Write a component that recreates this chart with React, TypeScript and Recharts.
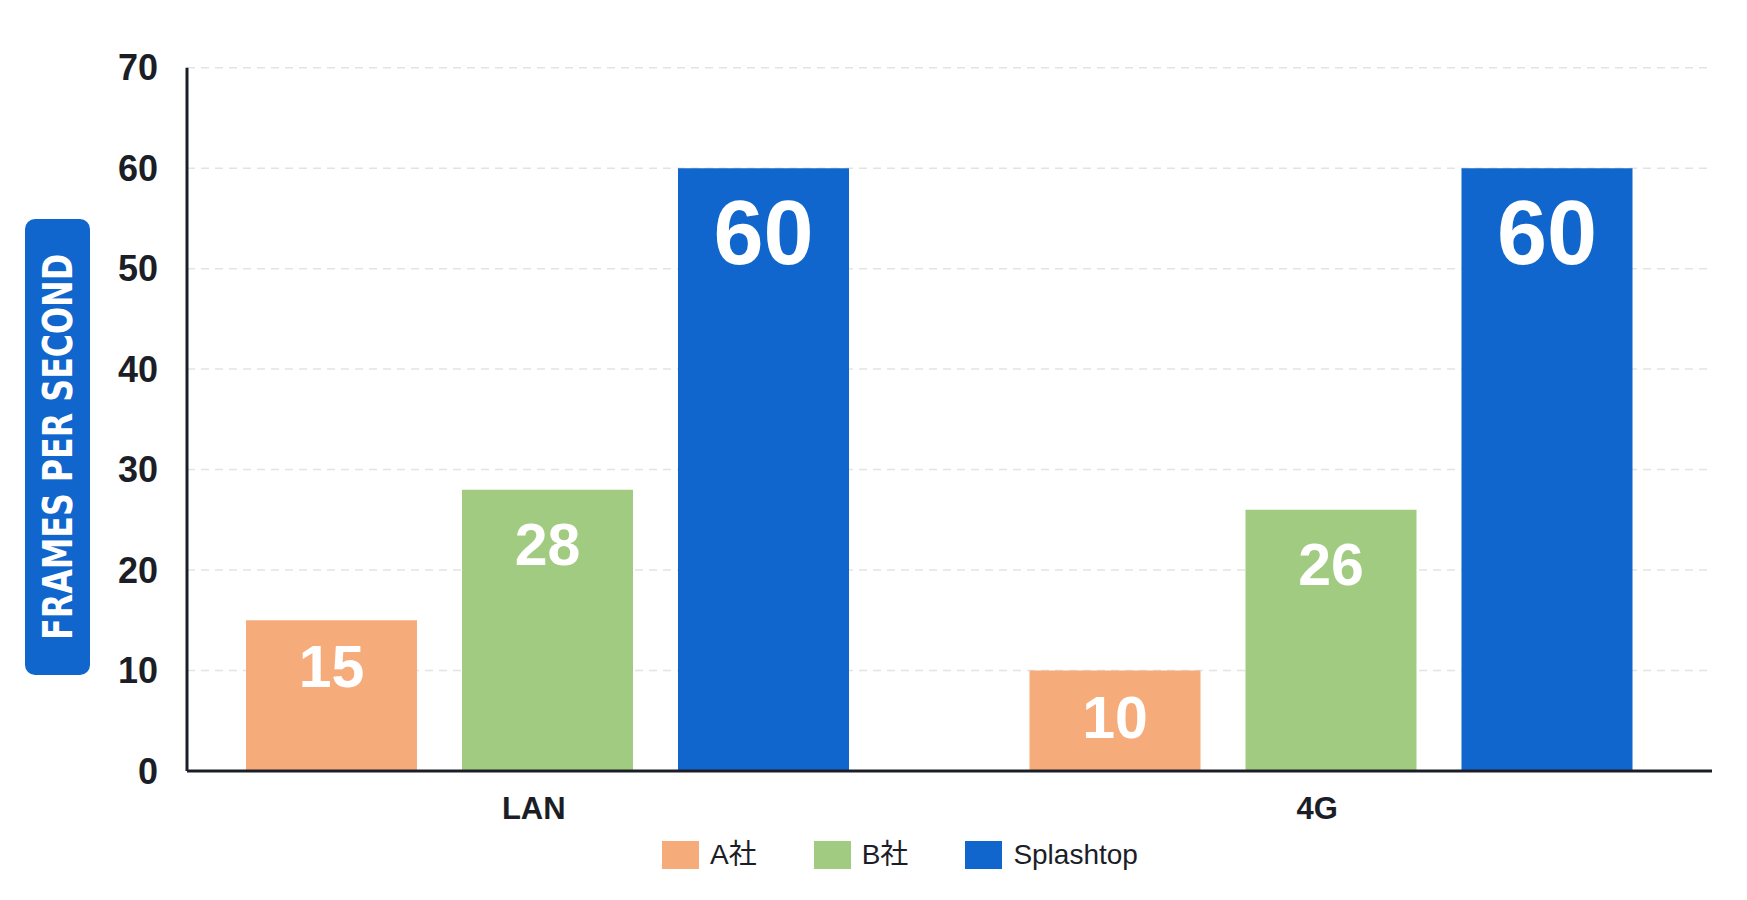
import React from "react";
import {
  Bar,
  BarChart,
  CartesianGrid,
  LabelList,
  Legend,
  XAxis,
  YAxis,
} from "recharts";

const categories = ["LAN", "4G"];
const companyA = [15, 10];
const companyB = [28, 26];
const splashtop = [60, 60];
const yTicks = [0, 10, 20, 30, 40, 50, 60, 70];

const series = [
  { key: "a", name: "A社", color: "#F6AB7B", values: companyA, fontSize: 59, offset: 46 },
  { key: "b", name: "B社", color: "#A0CB80", values: companyB, fontSize: 59, offset: 54 },
  { key: "s", name: "Splashtop", color: "#1066CC", values: splashtop, fontSize: 90, offset: 64 },
];

const data = categories.map((c, i) => ({
  name: c,
  a: companyA[i],
  b: companyB[i],
  s: splashtop[i],
}));

const FONT = "'Liberation Sans', Arial, 'Noto Sans CJK JP', sans-serif";
const DARK = "#1c1e27";

function makeLabel(fontSize: number, offset: number) {
  return (props: any) => {
    const { x, y, width, value } = props;
    const cy = Number(y) + offset;
    return (
      <text
        x={Number(x) + Number(width) / 2}
        y={cy + fontSize * 0.358}
        textAnchor="middle"
        fill="#ffffff"
        fontFamily={FONT}
        fontWeight={700}
        fontSize={fontSize}
      >
        {value}
      </text>
    );
  };
}

function AxisTitle() {
  return (
    <g>
      <rect x={25} y={219} width={65} height={456} rx={10} fill="#1066CC" />
      <text
        transform="translate(57.5,447) rotate(-90)"
        x={0}
        y={14.5}
        textAnchor="middle"
        fill="#ffffff"
        fontFamily="'DejaVu Sans Condensed', 'DejaVu Sans', sans-serif"
        fontWeight={700}
        fontSize={40}
        textLength={386}
        lengthAdjust="spacingAndGlyphs"
      >
        FRAMES PER SECOND
      </text>
    </g>
  );
}

function LegendContent() {
  return (
    <div style={{ display: "flex", alignItems: "center", fontFamily: FONT }}>
      {series.map((s, i) => (
        <div
          key={s.key}
          style={{ display: "flex", alignItems: "center", marginLeft: i === 0 ? 0 : 57 }}
        >
          <div style={{ width: 37, height: 28, background: s.color, marginRight: 11 }} />
          <span style={{ fontSize: 28, color: DARK, lineHeight: "28px" }}>{s.name}</span>
        </div>
      ))}
    </div>
  );
}

export default function App() {
  return (
    <div style={{ position: "absolute", left: 0, top: 0, background: "#fff" }}>
      <BarChart
        width={1747}
        height={900}
        data={data}
        margin={{ top: 67.7, right: 35, left: 0, bottom: 69 }}
        barGap={45}
      >
        <CartesianGrid
          vertical={false}
          stroke="#e3e3e3"
          strokeDasharray="8 6"
          strokeWidth={1.5}
        />
        <XAxis
          dataKey="name"
          height={60}
          padding={{ left: -31, right: -11 }}
          axisLine={{ stroke: DARK, strokeWidth: 3 }}
          tickLine={false}
          tickSize={0}
          tickMargin={26}
          tick={{ fill: DARK, fontSize: 31, fontWeight: 700, fontFamily: FONT, dx: -14 }}
        />
        <YAxis
          width={187}
          domain={[0, 70]}
          ticks={yTicks}
          interval={0}
          axisLine={{ stroke: DARK, strokeWidth: 3 }}
          tickLine={false}
          tickSize={0}
          tickMargin={29}
          tick={{ fill: DARK, fontSize: 36, fontWeight: 700, fontFamily: FONT }}
          label={{ content: () => <AxisTitle /> }}
        />
        <Legend
          verticalAlign="middle"
          align="center"
          layout="horizontal"
          wrapperStyle={{ top: 841, left: 662, width: "auto" }}
          content={() => <LegendContent />}
        />
        {series.map((s) => (
          <Bar
            key={s.key}
            dataKey={s.key}
            name={s.name}
            fill={s.color}
            barSize={171}
            isAnimationActive={false}
          >
            <LabelList dataKey={s.key} content={makeLabel(s.fontSize, s.offset)} />
          </Bar>
        ))}
      </BarChart>
    </div>
  );
}
